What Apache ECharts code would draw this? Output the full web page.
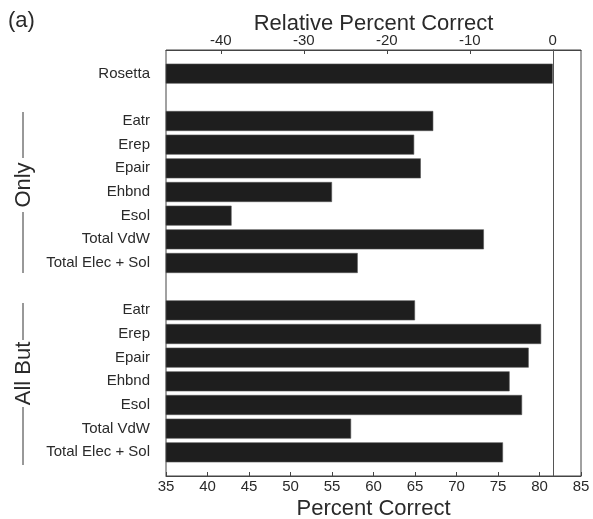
<!DOCTYPE html>
<html>
<head>
<meta charset="utf-8">
<script src="https://cdn.jsdelivr.net/npm/echarts@6/dist/echarts.min.js"></script>
<style>html,body{margin:0;padding:0;background:#fff}#c{width:593px;height:519px}</style>
</head>
<body>
<div id="c"></div>
<script>
const categories = ['', 'Rosetta', '', 'Eatr', 'Erep', 'Epair', 'Ehbnd', 'Esol', 'Total VdW', 'Total Elec + Sol', '', 'Eatr', 'Erep', 'Epair', 'Ehbnd', 'Esol', 'Total VdW', 'Total Elec + Sol', ''];
const percentCorrect = [null, 81.6, null, 67.2, 64.9, 65.7, 55.0, 42.9, 73.3, 58.1, null, 65.0, 80.2, 78.7, 76.4, 77.9, 57.3, 75.6, null];
const rosettaRef = 81.6;
const bottomMin = 35, bottomMax = 85, bottomStep = 5;
const relTicks = [-40, -30, -20, -10, 0];

const FONT = 'Liberation Sans, Arial, Helvetica, sans-serif';
const chart = echarts.init(document.getElementById('c'));
const axisCol = '#444';
const txtCol = '#2a2a2a';

chart.setOption({
  animation: false,
  textStyle: { fontFamily: FONT },
  grid: { left: 166, right: 12, top: 50, bottom: 43, show: true, borderColor: axisCol, borderWidth: 1, containLabel: false, outerBoundsMode: 'none' },
  xAxis: [
    {
      type: 'value', position: 'bottom', min: bottomMin, max: bottomMax, interval: bottomStep,
      name: 'Percent Correct', nameLocation: 'middle', nameGap: 22, nameMoveOverlap: false,
      nameTextStyle: { fontSize: 22, color: txtCol, fontFamily: FONT },
      axisLine: { show: true, lineStyle: { color: axisCol, width: 1 } },
      axisTick: { show: true, inside: true, length: 4, lineStyle: { color: axisCol } },
      axisLabel: { fontSize: 15, color: txtCol, margin: 3, fontFamily: FONT, showMinLabel: true, showMaxLabel: true },
      splitLine: { show: false }
    },
    {
      type: 'value', position: 'top', min: bottomMin - rosettaRef, max: bottomMax - rosettaRef,
      name: 'Relative Percent Correct', nameLocation: 'middle', nameGap: 15, nameMoveOverlap: false,
      nameTextStyle: { fontSize: 22, color: txtCol, fontFamily: FONT },
      axisLine: { show: true, lineStyle: { color: axisCol, width: 1 } },
      axisTick: { show: true, inside: true, length: 4, lineStyle: { color: axisCol }, customValues: relTicks },
      axisLabel: { fontSize: 15, color: txtCol, margin: 2, fontFamily: FONT, customValues: relTicks },
      splitLine: { show: false }
    }
  ],
  yAxis: {
    type: 'category', data: categories, inverse: true, boundaryGap: false,
    axisLine: { show: true, lineStyle: { color: axisCol, width: 1 } },
    axisTick: { show: false },
    axisLabel: { fontSize: 15, color: txtCol, margin: 16, fontFamily: FONT, interval: 0 },
    splitLine: { show: false }
  },
  series: [{
    type: 'bar', xAxisIndex: 0, data: percentCorrect, barWidth: 20,
    itemStyle: { color: '#1e1e1e', borderColor: '#555', borderWidth: 0.6 },
    markLine: {
      silent: true, symbol: ['none', 'none'], label: { show: false },
      lineStyle: { color: '#555', width: 1, type: 'solid' },
      data: [{ xAxis: rosettaRef }]
    }
  }],
  graphic: [
    { type: 'text', left: 8, top: 10, style: { text: '(a)', fontSize: 22, fill: txtCol, fontFamily: FONT } },
    { type: 'line', shape: { x1: 23, y1: 112, x2: 23, y2: 158 }, style: { stroke: '#333', lineWidth: 1 } },
    { type: 'line', shape: { x1: 23, y1: 212, x2: 23, y2: 273 }, style: { stroke: '#333', lineWidth: 1 } },
    { type: 'text', x: 24, y: 185, rotation: Math.PI / 2, style: { text: 'Only', fontSize: 22, fill: txtCol, fontFamily: FONT, align: 'center', verticalAlign: 'middle' } },
    { type: 'line', shape: { x1: 23, y1: 303, x2: 23, y2: 340 }, style: { stroke: '#333', lineWidth: 1 } },
    { type: 'line', shape: { x1: 23, y1: 407, x2: 23, y2: 465 }, style: { stroke: '#333', lineWidth: 1 } },
    { type: 'text', x: 24, y: 373.5, rotation: Math.PI / 2, style: { text: 'All But', fontSize: 22, fill: txtCol, fontFamily: FONT, align: 'center', verticalAlign: 'middle' } }
  ]
});
</script>
</body>
</html>
